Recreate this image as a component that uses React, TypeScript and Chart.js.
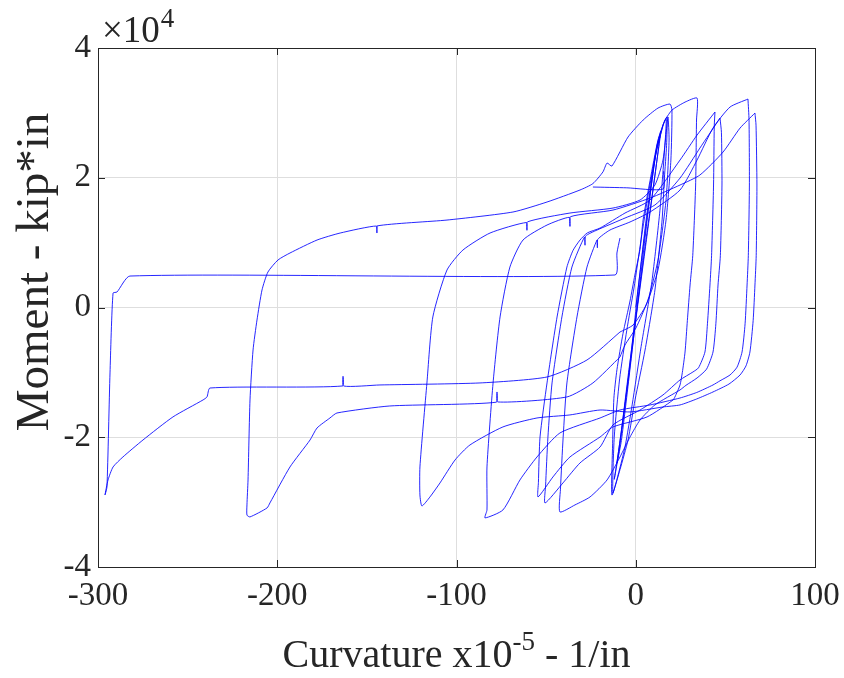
import React, { useEffect, useRef } from "react";
import { Chart, registerables } from "chart.js";
Chart.register(...registerables);

// Curvature (x10^-5 1/in) and Moment (kip*in) traced branch by branch
const elasticK = [0, 4, 9, 12, 13.5, 11, 6, 1, -4, -8, -10.5, -8, -3, 2, 7, 11.5, 14, 11.5, 6, 0, -5, -9.5, -12, -9.5, -4, 1, 6, 11, 15.5];
const elasticM = [0, 9000, 19500, 25000, 26500, 21000, 11000, 500, -10000, -19000, -24000, -20500, -9000, 3000, 15000, 24500, 27200, 22000, 10500, -2000, -13000, -22500, -26500, -22000, -10500, 2000, 14000, 23500, 28300];

const loopBK = [15.5, 17.4, 17.2, 16, 14.7, 10.7, 5.2, -0.4, -4.3, -8.8, -13.3, -12.9, -12.2, -10.5, -7.1, -3.2, -0.5, 2.4, 4.1, 8, 12.4, 16.3, 17, 16.5, 13.5, 9, 3, -2, -6, -10.5, -12.8, -12, -9, -5, -1, 3, 7, 11.5, 15, 16.5];
const loopBM = [28300, 29360, 25000, 20000, 13500, 2700, -6550, -14250, -20400, -25000, -28900, -21000, -14000, -9600, -4000, 1000, 5000, 9000, 13500, 19600, 25800, 28900, 29000, 26000, 15000, 4000, -6000, -15000, -21500, -26500, -28600, -20000, -11000, -3500, 3000, 10500, 17500, 24000, 28000, 29000];

const loopCK = [16.5, 20.2, 27.5, 34.2, 33.9, 33.4, 31.8, 30.3, 28.8, 27.5, 26, 24.7, 22.5, 20.8, 6.3, -12.7, -19.9, -36.7, -46.2, -54.5, -54.3, -53.4, -49.5, -43.9, -38.4, -35, -31.1, -27, -19.9, -6, 8, 24.7, 34.2, 44.2];
const loopCM = [29000, 30430, 31660, 32280, 28900, 18880, 8000, 3470, -2000, -6860, -10000, -11940, -13400, -14250, -16870, -18410, -19960, -23040, -26120, -29200, -27000, -19960, -11630, -1460, 6240, 8800, 10400, 11500, 12250, 14560, 16570, 22730, 26580, 30130];

const loopDK = [44.2, 43.8, 43.4, 42.3, 41.4, 40, 38.6, 35, 31.9, 24.7, 15.2, 2.4, -12.7, -19.9, -31.1, -40.6, -50.6, -50.3, -49, -46.7, -41.2, -35.6, -28.6, -28.3, -28.0, -21.6, -6, 10.7, 24.7, 35.8, 47];
const loopDM = [30130, 28000, 18880, 8000, 3470, -2500, -6860, -9300, -9940, -11170, -13480, -15800, -18100, -21500, -23960, -27040, -30130, -27500, -20000, -11630, -1460, 6240, 10860, 9600, 11000, 11940, 13790, 15800, 19950, 24580, 29200];

const loopEK = [47, 47.8, 48.1, 47.2, 45.9, 44.7, 43.1, 39.5, 34.2, 28, 24.7, 10.7, 2.4, -3.2, -8.8, -16, -25.5, -33.9, -42.3, -42, -40.5, -38.4, -32.8, -27.2, -21.6, -21.4, -21.2, -14.4, -3.2, 8, 24.7, 34.2, 43.1, 52.6, 62.6];
const loopEM = [29200, 27000, 18880, 8000, 3470, -2500, -6860, -9500, -10860, -12000, -12710, -15020, -17340, -19960, -23040, -26580, -29200, -30430, -31510, -28000, -20000, -11630, -1460, 6240, 10400, 9200, 10500, 11940, 13180, 14720, 18110, 22730, 27660, 30900, 32130];

const loopFK = [62.6, 63.2, 63.4, 62.8, 62.1, 61, 59.3, 56.5, 52.6, 47, 43.1, 34, 24.7, 8, -8.8, -19.9, -42.3, -55.1, -64.6, -74.1, -84.1, -83, -83, -79.6, -75.7, -70.2, -62.9, -49.5, -37, -36.7, -36.4, -12.7, 8, 24.7, 35.8, 48.7, 58.2, 66.5];
const loopFM = [32130, 28900, 18880, 8000, 3470, -2500, -6860, -9200, -10400, -11300, -11940, -13100, -13950, -15020, -15800, -17030, -19340, -23040, -26580, -31210, -32430, -31210, -24580, -11630, -1460, 6240, 10400, 12710, 13900, 12500, 14000, 15020, 16870, 18880, 20420, 23960, 27660, 29970];

const loopGK = [66.5, 67.1, 67.6, 67.2, 66.5, 65.5, 63.7, 61.5, 58.2, 52, 43.1, 34, 24.7, 15.2, -3.2, -19.9, -36.7, -55.1, -74.1, -92.5, -100.8, -109.2, -114.8, -119.3, -120.4, -120.4, -116.5, -113.2, -105.3, -96.4, -81.3, -61, -60.7, -60.4, -36.7, -12.7, 2.4, 10.7, 15.2, 17.4, 18, 18.6, 16.9, 12.4, 6.8, 0.1, -6, -8.8];
const loopGM = [29970, 28100, 18880, 8000, 3470, -2000, -6860, -9000, -10400, -11800, -13020, -14100, -15020, -15330, -16100, -15800, -16560, -17030, -18410, -21190, -23500, -27040, -29200, -30590, -28890, -24580, -11630, -1460, 5780, 8860, 11480, 13100, 11900, 13200, 14560, 15330, 16570, 18880, 22730, 28100, 29360, 25810, 16570, 7320, 1160, -3160, -5780, -7630];

const loopHK = [-8.8, -23.9, -38.4, -77, -77.4, -77.8, -137.2, -166.7, -170.6, -177.8, -181.7, -192.9, -204.1, -205.7, -215.2, -216.9, -216.9, -216.3, -215.2, -213.5, -211.3, -208.5, -205.2, -199.6, -192.9, -177.8, -164.9, -144.6, -144.4, -144.2, -105.3, -68.5, -49.5, -31.1, -23.9, -18.3, -16, -13.3, -4.3, 4.1, 12.4, 19.1, 20.2, 19.6, 16.9, 12.4, 5.8, -1.5, -8.8];
const loopHM = [-7630, -11630, -13790, -14560, -13020, -14600, -15180, -16260, -17030, -18570, -20420, -24580, -30130, -30900, -32280, -32000, -30430, -26580, -14250, -6550, -1930, 2700, 5470, 7320, 8400, 10400, 11480, 12560, 11480, 12580, 13480, 14720, 16260, 18110, 19100, 20900, 22270, 21800, 26280, 28890, 30740, 31360, 30430, 22730, 13480, 5780, 390, -2700, -3780];

const loopIK = [-8.8, -27.2, -49.5, -86.9, -142.7, -163, -163.3, -163.6, -237.5, -239.2, -241.4, -258.2, -274.9, -286.1, -291.6, -294.4, -296.1, -295, -293.3, -291.6, -289.4, -282.2, -11.6, -10.5, -8.8];
const loopIM = [-3780, -8090, -10710, -11630, -11940, -12100, -10600, -12100, -12410, -13790, -14250, -16870, -20420, -23040, -24580, -26580, -28890, -27660, -10090, 2230, 2390, 4850, 5010, 8400, 10710];

const flatK = [-23.9, -5, 15.2, 15.5];
const flatM = [18570, 18450, 18260, 21000];

const xTicks = [-300, -200, -100, 0, 100];
const yTicks = [-40000, -20000, 0, 20000, 40000];

const branches: [number[], number[]][] = [
  [elasticK, elasticM], [loopBK, loopBM], [loopCK, loopCM], [loopDK, loopDM],
  [loopEK, loopEM], [loopFK, loopFM], [loopGK, loopGM], [loopHK, loopHM],
  [loopIK, loopIM], [flatK, flatM],
];

const FONT = '"Liberation Serif", "Times New Roman", serif';
const TXT = "#262626";

const boxPlugin = {
  id: "matlabBox",
  afterDraw(chart: any) {
    const { ctx, chartArea } = chart;
    const { left, right, top, bottom } = chartArea;
    const xs = chart.scales.x;
    const ys = chart.scales.y;
    ctx.save();
    ctx.strokeStyle = TXT;
    ctx.lineWidth = 1;
    ctx.strokeRect(Math.round(left) + 0.5, Math.round(top) + 0.5, Math.round(right - left), Math.round(bottom - top));
    const tl = 7;
    ctx.beginPath();
    xTicks.forEach((v) => {
      const p = Math.round(xs.getPixelForValue(v)) + 0.5;
      ctx.moveTo(p, bottom); ctx.lineTo(p, bottom - tl);
      ctx.moveTo(p, top); ctx.lineTo(p, top + tl);
    });
    yTicks.forEach((v) => {
      const p = Math.round(ys.getPixelForValue(v)) + 0.5;
      ctx.moveTo(left, p); ctx.lineTo(left + tl, p);
      ctx.moveTo(right, p); ctx.lineTo(right - tl, p);
    });
    ctx.stroke();

    ctx.fillStyle = TXT;
    ctx.textBaseline = "alphabetic";
    // exponent label
    ctx.textAlign = "left";
    ctx.font = `37px ${FONT}`;
    const base = "\u00d710";
    ctx.fillText(base, left + 4, top - 6);
    const bw = ctx.measureText(base).width;
    ctx.font = `27px ${FONT}`;
    ctx.fillText("4", left + 4 + bw + 1, top - 21);

    // x title with superscript
    const s1 = "Curvature x10";
    const s2 = "-5";
    const s3 = " - 1/in";
    ctx.font = `40px ${FONT}`;
    const w1 = ctx.measureText(s1).width;
    const w3 = ctx.measureText(s3).width;
    ctx.font = `27px ${FONT}`;
    const w2 = ctx.measureText(s2).width;
    const cx = (left + right) / 2;
    const sx = cx - (w1 + w2 + w3) / 2;
    const by = 667;
    ctx.font = `40px ${FONT}`;
    ctx.fillText(s1, sx, by);
    ctx.font = `27px ${FONT}`;
    ctx.fillText(s2, sx + w1, by - 17);
    ctx.font = `40px ${FONT}`;
    ctx.fillText(s3, sx + w1 + w2, by);

    // y title
    ctx.translate(48, 272);
    ctx.rotate(-Math.PI / 2);
    ctx.textAlign = "center";
    ctx.font = `47px ${FONT}`;
    ctx.fillText("Moment - kip*in", 0, 0);
    ctx.restore();
  },
};

export default function App() {
  const ref = useRef<HTMLCanvasElement>(null);
  useEffect(() => {
    document.body.style.margin = "0";
    const datasets = branches.map(([k, m]) => ({
      data: k.map((v, i) => ({ x: v, y: m[i] })),
      showLine: true,
      borderColor: "rgba(0,0,255,0.85)",
      borderWidth: 1,
      pointRadius: 0,
      tension: 0.2,
      fill: false,
    }));
    const chart = new Chart(ref.current as HTMLCanvasElement, {
      type: "scatter",
      data: { datasets },
      plugins: [boxPlugin],
      options: {
        animation: false,
        responsive: false,
        devicePixelRatio: 1,
        layout: { padding: { top: 48, right: 29, left: 0, bottom: 0 } },
        plugins: { legend: { display: false }, tooltip: { enabled: false } },
        scales: {
          x: {
            type: "linear",
            min: -300,
            max: 100,
            afterFit: (s: any) => { s.height = 111; s.paddingLeft = 0; s.paddingRight = 0; },
            afterBuildTicks: (s: any) => { s.ticks = xTicks.map((v) => ({ value: v })); },
            ticks: { color: TXT, font: { family: FONT, size: 33 }, padding: 10, maxRotation: 0 },
            grid: { color: "#dedede", drawTicks: false, lineWidth: 1 },
            border: { display: false },
          },
          y: {
            type: "linear",
            min: -40000,
            max: 40000,
            afterFit: (s: any) => { s.width = 98; s.paddingTop = 0; s.paddingBottom = 0; },
            afterBuildTicks: (s: any) => { s.ticks = yTicks.map((v) => ({ value: v })); },
            ticks: {
              color: TXT,
              font: { family: FONT, size: 33 },
              padding: 7,
              callback: (v: any) => String(Number(v) / 10000),
            },
            grid: { color: "#dedede", drawTicks: false, lineWidth: 1 },
            border: { display: false },
          },
        },
      },
    } as any);
    return () => chart.destroy();
  }, []);
  return <canvas ref={ref} width={844} height={678} style={{ display: "block" }} />;
}
